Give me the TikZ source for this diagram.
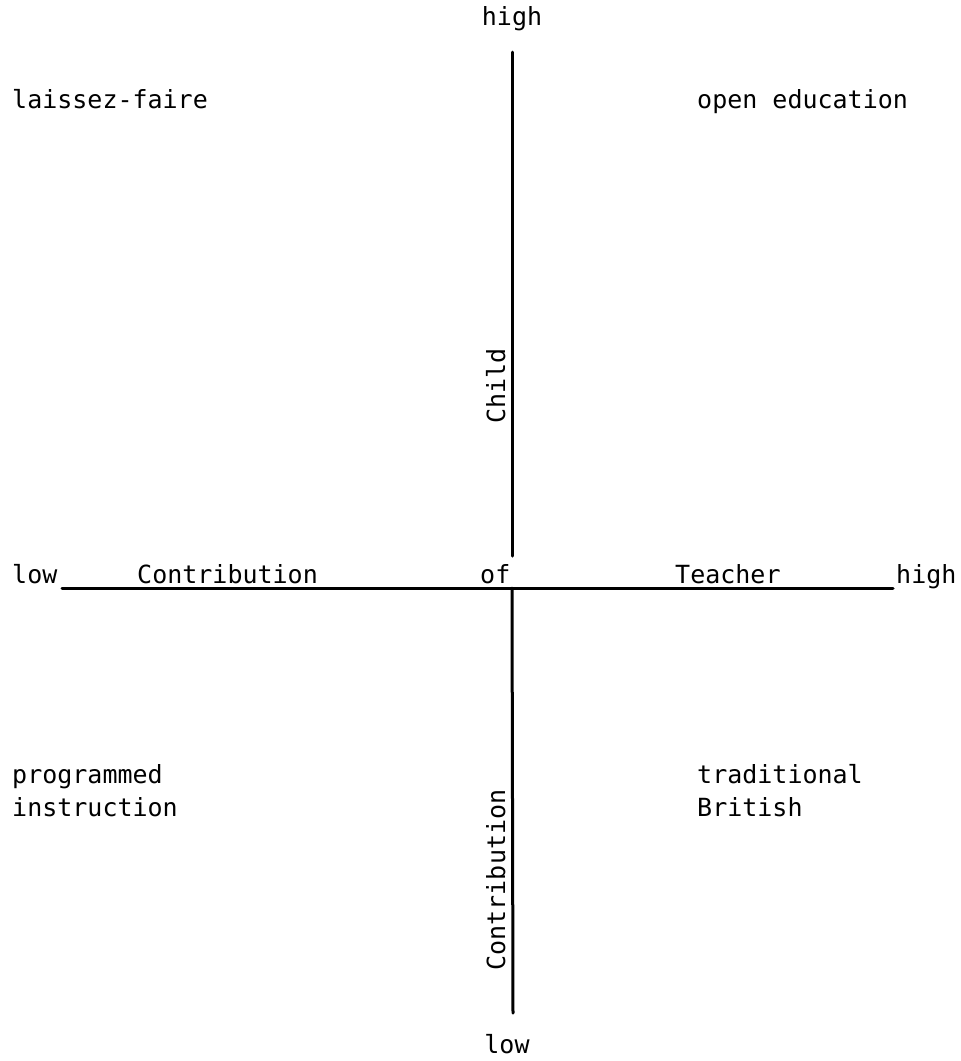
\documentclass[tikz,border=0pt]{standalone}
\usepackage{fontspec}
\setmonofont{DejaVu Sans Mono}
\begin{document}
\begin{tikzpicture}[x=1pt,y=-1pt,
  lbl/.style={inner sep=0pt,font=\ttfamily\fontsize{25}{33}\selectfont},
  axis/.style={line width=3pt,line cap=round}]
\useasboundingbox (0,0) rectangle (961,1061);
\coordinate (vtop) at (512,52);
\coordinate (vmid) at (512,556);
\coordinate (cross) at (512,588);
\coordinate (vbot) at (513,1013);
\coordinate (hleft) at (62,588);
\coordinate (hright) at (893,588);
\draw[axis] (vtop) -- (vmid);
\draw[axis] (cross) -- (vbot);
\draw[axis] (hleft) -- (hright);
\node[lbl,anchor=base] (hightop) at (512,25) {high};
\node[lbl,anchor=base] (lowbot) at (507,1053) {low};
\node[lbl,anchor=base west] (lowl) at (12,583) {low};
\node[lbl,anchor=base west] (highr) at (896,583) {high};
\node[lbl,anchor=base west] (contrh) at (137,583) {Contribution};
\node[lbl,anchor=base west] (ofh) at (480,583) {of};
\node[lbl,anchor=base west] (teach) at (675,583) {Teacher};
\node[lbl,rotate=90,anchor=base] (child) at (505,386) {Child};
\node[lbl,rotate=90,anchor=base] (contrv) at (505,880) {Contribution};
\node[lbl,anchor=base west] (lf) at (12,108) {laissez-faire};
\node[lbl,anchor=base west] (oe) at (697,108) {open education};
\node[lbl,anchor=base west,align=left] (pi) at (12,816) {programmed\\instruction};
\node[lbl,anchor=base west,align=left] (tb) at (697,816) {traditional\\British};
\end{tikzpicture}
\end{document}
